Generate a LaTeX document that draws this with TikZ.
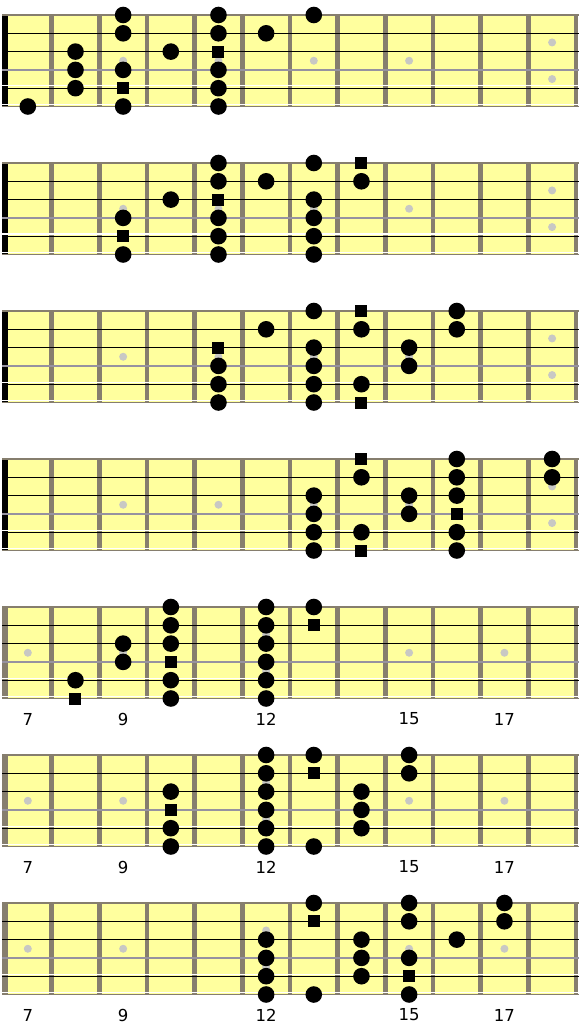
\documentclass[tikz,border=0pt]{standalone}
\usepackage{fontspec}
\setmainfont{DejaVu Sans}
\definecolor{boardyellow}{RGB}{255,255,158}
\definecolor{fretgray}{RGB}{134,126,110}
\definecolor{inlaygray}{RGB}{200,200,196}
\definecolor{stringgray}{RGB}{150,146,160}
% one fretboard: panel, left edge colour, single inlay cells, double inlay cell
\newcommand{\BOARD}[4]{%
  \begin{scope}[yshift={-148*(#1-1)}]
    \fill[boardyellow] (4,15) rectangle (576,106.5);
    \foreach \cel in {#3} \fill[inlaygray] ({4+47.66*(\cel-0.5)},60.75) circle (4);
    \fill[inlaygray] ({4+47.66*(#4-0.5)},42.45) circle (4);
    \fill[inlaygray] ({4+47.66*(#4-0.5)},79.05) circle (4);
    \foreach \k in {0,...,12} \draw[fretgray,line width=4.5] ({4+47.66*\k},15) -- ({4+47.66*\k},106.5);
    \fill[#2] (1.5,15) rectangle (7.5,106.5);
    \draw[fretgray,line width=1.4] (2,15) -- (579,15);
    \draw[black,line width=0.9] (2,33.3) -- (579,33.3);
    \draw[black,line width=0.9] (2,51.6) -- (579,51.6);
    \draw[stringgray,line width=2] (2,69.9) -- (579,69.9);
    \draw[white,line width=1] (2,86) -- (579,86);
    \draw[black,line width=1] (2,88.2) -- (579,88.2);
    \draw[white,line width=1] (2,104.3) -- (579,104.3);
    \draw[fretgray,line width=1.3] (2,106.5) -- (579,106.5);
  \end{scope}}
\newcommand{\NOTE}[3]{\node (n#1-#2-#3) at ({4+47.66*(#2-0.5)},{15+148*(#1-1)+18.3*(#3-1)}) [tone] {};}
\newcommand{\ROOT}[3]{\node (r#1-#2-#3) at ({4+47.66*(#2-0.5)},{15+148*(#1-1)+18.3*(#3-1)}) [root] {};}
\newcommand{\FRETNUM}[3]{\node (f#1-#3) at ({4+47.66*(#2-0.5)},{127+148*(#1-1)}) [fretnum] {#3};}

\begin{document}
\begin{tikzpicture}[x=1pt,y=-1pt,
    tone/.style={circle,fill=black,inner sep=0,minimum size=16.6},
    root/.style={rectangle,fill=black,inner sep=0,minimum size=12},
    fretnum/.style={inner sep=0,font=\fontsize{16.5}{18}\selectfont}]
  \useasboundingbox (0,0) rectangle (582,1024);
  % boards
  \BOARD{1}{black}{3,5,7,9}{12}
  \BOARD{2}{black}{3,5,7,9}{12}
  \BOARD{3}{black}{3,5,7,9}{12}
  \BOARD{4}{black}{3,5,7,9}{12}
  \BOARD{5}{fretgray}{1,3,9,11}{6}
  \BOARD{6}{fretgray}{1,3,9,11}{6}
  \BOARD{7}{fretgray}{1,3,9,11}{6}
  % panel 1
  \foreach \cel/\str in {1/6,2/3,2/4,2/5,3/1,3/2,3/4,3/6,4/3,5/1,5/2,5/4,5/5,5/6,6/2,7/1} {\NOTE{1}{\cel}{\str}}
  \foreach \cel/\str in {3/5,5/3} {\ROOT{1}{\cel}{\str}}
  % panel 2
  \foreach \cel/\str in {3/4,3/6,4/3,5/1,5/2,5/4,5/5,5/6,6/2,7/1,7/3,7/4,7/5,7/6,8/2} {\NOTE{2}{\cel}{\str}}
  \foreach \cel/\str in {3/5,5/3,8/1} {\ROOT{2}{\cel}{\str}}
  % panel 3
  \foreach \cel/\str in {5/4,5/5,5/6,6/2,7/1,7/3,7/4,7/5,7/6,8/2,8/5,9/3,9/4,10/1,10/2} {\NOTE{3}{\cel}{\str}}
  \foreach \cel/\str in {5/3,8/1,8/6} {\ROOT{3}{\cel}{\str}}
  % panel 4
  \foreach \cel/\str in {7/3,7/4,7/5,7/6,8/2,8/5,9/3,9/4,10/1,10/2,10/3,10/5,10/6,12/1,12/2} {\NOTE{4}{\cel}{\str}}
  \foreach \cel/\str in {8/1,8/6,10/4} {\ROOT{4}{\cel}{\str}}
  % panel 5
  \foreach \cel/\str in {2/5,3/3,3/4,4/1,4/2,4/3,4/5,4/6,6/1,6/2,6/3,6/4,6/5,6/6,7/1} {\NOTE{5}{\cel}{\str}}
  \foreach \cel/\str in {2/6,4/4,7/2} {\ROOT{5}{\cel}{\str}}
  % panel 6
  \foreach \cel/\str in {4/3,4/5,4/6,6/1,6/2,6/3,6/4,6/5,6/6,7/1,7/6,8/3,8/4,8/5,9/1,9/2} {\NOTE{6}{\cel}{\str}}
  \foreach \cel/\str in {4/4,7/2} {\ROOT{6}{\cel}{\str}}
  % panel 7
  \foreach \cel/\str in {6/3,6/4,6/5,6/6,7/1,7/6,8/3,8/4,8/5,9/1,9/2,9/4,9/6,10/3,11/1,11/2} {\NOTE{7}{\cel}{\str}}
  \foreach \cel/\str in {7/2,9/5} {\ROOT{7}{\cel}{\str}}
  % fret numbers
  \foreach \pan in {5,6,7} {
    \FRETNUM{\pan}{1}{7}
    \FRETNUM{\pan}{3}{9}
    \FRETNUM{\pan}{6}{12}
    \FRETNUM{\pan}{9}{15}
    \FRETNUM{\pan}{11}{17}
  }
\end{tikzpicture}
\end{document}
